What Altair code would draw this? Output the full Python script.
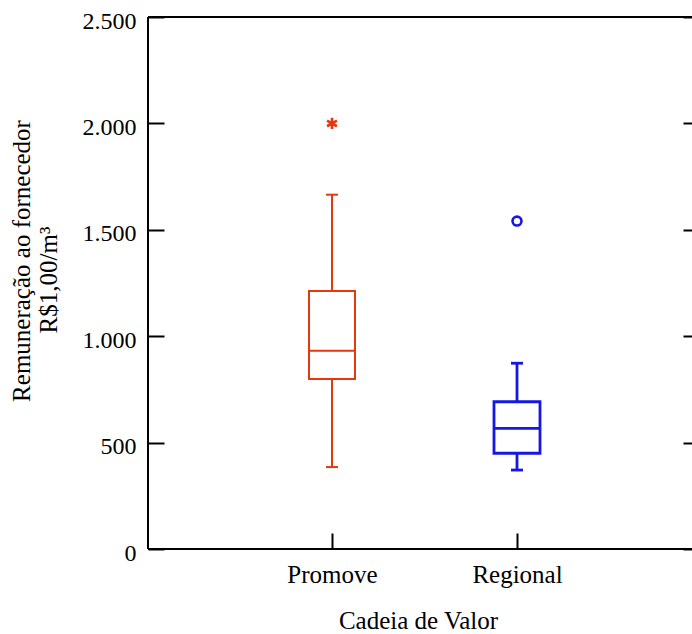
import altair as alt
import pandas as pd

# ---- data ----
categories = ["Promove", "Regional"]
whisker_low = [385, 371]
quartile_1 = [799, 450]
medians = [932, 567]
quartile_3 = [1212, 692]
whisker_high = [1665, 873]
outlier_cat = ["Promove", "Regional"]
outlier_val = [2000, 1541]
y_ticks = [0, 500, 1000, 1500, 2000, 2500]
y_title_lines = ["Remuneração ao fornecedor", "R$1,00/m³"]

# ---- styles ----
colors = ["#E6380F", "#1717E3"]
line_widths = [2.0, 2.8]
outlier_shapes = ["M0,-1L0,1M-0.87,-0.5L0.87,0.5M-0.87,0.5L0.87,-0.5", "circle"]
outlier_sizes = [130, 80]

box_df = pd.DataFrame({
    "cat": categories, "low": whisker_low, "q1": quartile_1, "med": medians,
    "q3": quartile_3, "high": whisker_high, "lw": line_widths,
})
out_df = pd.DataFrame({"cat": outlier_cat, "val": outlier_val, "sz": outlier_sizes})

W, H = 544, 532
FONT = "Liberation Serif"

x_scale = alt.Scale(type="point", domain=categories, range=[184, 369], padding=0)
y_scale = alt.Scale(domain=[0, 2500], nice=False, zero=True)
color_scale = alt.Scale(domain=categories, range=colors)

x_axis = alt.Axis(orient="bottom", title="Cadeia de Valor", offset=-16, tickSize=16,
                  tickWidth=2, tickColor="black", domain=False, labelPadding=13,
                  labelAngle=0, labelFontSize=25, titleFontSize=25,
                  titleX=270, titleY=95, titleAlign="center", titleBaseline="alphabetic",
                  grid=False)
x_enc = alt.X("cat:N", scale=x_scale, axis=x_axis)

base = alt.Chart(box_df)
col = alt.Color("cat:N", scale=color_scale, legend=None)
sw = alt.StrokeWidth("lw:Q", scale=None)

y_left_axis = alt.Axis(orient="left", values=y_ticks, offset=-16, tickSize=16, tickWidth=2,
                       tickColor="black", domain=False, labelPadding=12, labelOffset=4,
                       labelFontSize=24,
                       labelExpr="replace(format(datum.value, ','), ',', '.')",
                       title=None, grid=False)
y_right_axis = alt.Axis(orient="right", values=y_ticks, offset=-9, tickSize=9, tickWidth=2,
                        tickColor="black", domain=False, labels=False, title=None, grid=False)

whisk_lo = base.mark_rule().encode(
    x=x_enc, y=alt.Y("low:Q", scale=y_scale, axis=None), y2="q1:Q", color=col, strokeWidth=sw)
whisk_hi = base.mark_rule().encode(
    x=x_enc, y=alt.Y("q3:Q", scale=y_scale, axis=None), y2="high:Q", color=col, strokeWidth=sw)
box = base.mark_bar(width=46, fill="white").encode(
    x=x_enc,
    y=alt.Y("q1:Q", scale=y_scale, axis=y_left_axis), y2="q3:Q",
    stroke=alt.Stroke("cat:N", scale=color_scale, legend=None), strokeWidth=sw)
median = base.mark_rule(xOffset=-23, x2Offset=23).encode(
    x=x_enc, x2="cat:N", y=alt.Y("med:Q", scale=y_scale, axis=None), color=col, strokeWidth=sw)
cap_lo = base.mark_rule(xOffset=-6, x2Offset=6).encode(
    x=x_enc, x2="cat:N", y=alt.Y("low:Q", scale=y_scale, axis=None), color=col, strokeWidth=sw)
cap_hi = base.mark_rule(xOffset=-6, x2Offset=6).encode(
    x=x_enc, x2="cat:N", y=alt.Y("high:Q", scale=y_scale, axis=None), color=col, strokeWidth=sw)
outliers = alt.Chart(out_df).mark_point(filled=False, strokeWidth=2.6, opacity=1).encode(
    x=x_enc, y=alt.Y("val:Q", scale=y_scale, axis=y_right_axis),
    color=col,
    shape=alt.Shape("cat:N", scale=alt.Scale(domain=categories, range=outlier_shapes), legend=None),
    size=alt.Size("sz:Q", scale=None))

single = alt.Chart(pd.DataFrame({"k": [0]}))
frame_left = single.mark_rule(color="black", strokeWidth=2).encode(
    x=alt.value(0), y=alt.value(0), y2=alt.value(H))
frame_top = single.mark_rule(color="black", strokeWidth=2).encode(
    x=alt.value(0), x2=alt.value(W), y=alt.value(0))
frame_bottom = single.mark_rule(color="black", strokeWidth=2).encode(
    x=alt.value(0), x2=alt.value(W), y=alt.value(H))

# y-axis title (two lines, rotated)
ytitle_1 = single.mark_text(angle=270, align="center", baseline="alphabetic", font=FONT,
                            fontSize=25, color="black").encode(
    x=alt.value(-118), y=alt.value(244), text=alt.value(y_title_lines[0]))
ytitle_2 = single.mark_text(angle=270, align="center", baseline="alphabetic", font=FONT,
                            fontSize=25, color="black").encode(
    x=alt.value(-91), y=alt.value(263), text=alt.value(y_title_lines[1]))

chart = alt.layer(
    whisk_lo, whisk_hi, box, median, cap_lo, cap_hi, outliers,
    frame_left, frame_top, frame_bottom, ytitle_1, ytitle_2,
).resolve_axis(y="independent").properties(
    width=W, height=H,
    autosize=alt.AutoSizeParams(type="none"),
    padding={"left": 148, "top": 17, "right": 0, "bottom": 85},
    background="white",
).configure_view(stroke=None).configure_axis(
    labelFont=FONT, labelColor="black",
    titleFont=FONT, titleFontWeight="normal", titleColor="black",
)

chart.save("out.html", embed_options={"renderer": "svg", "actions": False})
